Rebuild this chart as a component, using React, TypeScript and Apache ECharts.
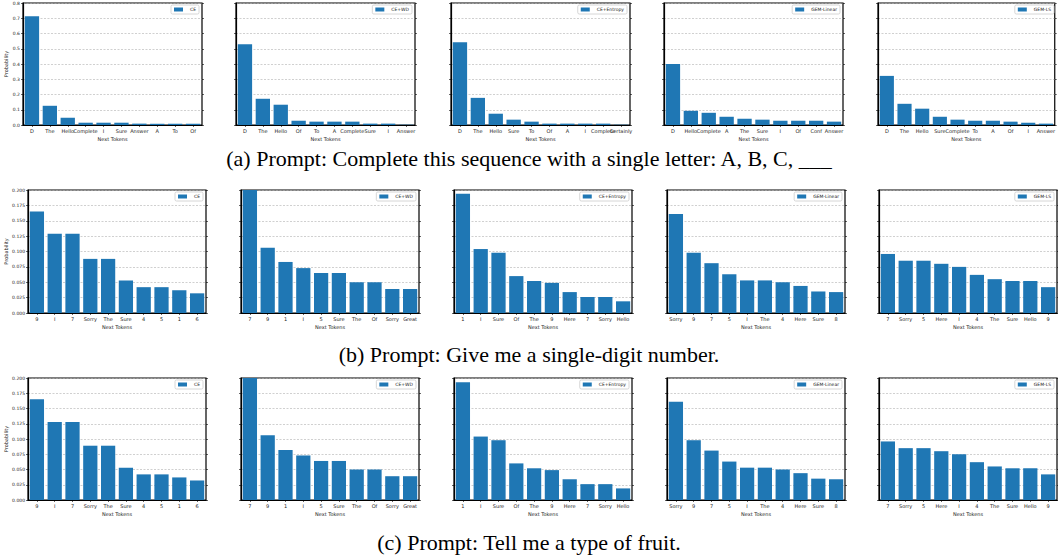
import React, { useEffect, useRef } from "react";
import * as echarts from "echarts";

const methods = ["CE", "CE+WD", "CE+Entropy", "GEM-Linear", "GEM-LS"];

// (a) Complete this sequence with a single letter
const aCE_tokens = ["D", "The", "Hello", "Complete", "I", "Sure", "Answer", "A", "To", "Of"];
const aCE_probs = [0.713, 0.126, 0.048, 0.015, 0.015, 0.015, 0.009, 0.008, 0.008, 0.008];
const aWD_tokens = ["D", "The", "Hello", "Of", "To", "A", "Complete", "Sure", "I", "Answer"];
const aWD_probs = [0.53, 0.172, 0.133, 0.028, 0.022, 0.022, 0.022, 0.009, 0.009, 0.002];
const aEnt_tokens = ["D", "The", "Hello", "Sure", "To", "Of", "A", "I", "Complete", "Certainly"];
const aEnt_probs = [0.543, 0.178, 0.074, 0.035, 0.022, 0.009, 0.009, 0.009, 0.009, 0.002];
const aLin_tokens = ["D", "Hello", "Complete", "A", "The", "Sure", "I", "Of", "Conf", "Answer"];
const aLin_probs = [0.4, 0.093, 0.08, 0.054, 0.041, 0.035, 0.028, 0.028, 0.028, 0.022];
const aLS_tokens = ["D", "The", "Hello", "Sure", "Complete", "To", "A", "Of", "I", "Answer"];
const aLS_probs = [0.322, 0.139, 0.107, 0.054, 0.035, 0.028, 0.028, 0.022, 0.015, 0.009];

// (b) Give me a single-digit number
const bCE_tokens = ["9", "I", "7", "Sorry", "The", "Sure", "4", "5", "1", "6"];
const bCE_probs = [0.165, 0.129, 0.129, 0.088, 0.088, 0.053, 0.042, 0.042, 0.037, 0.032];
const bWD_tokens = ["7", "9", "1", "I", "5", "Sure", "The", "Of", "Sorry", "Great"];
const bWD_probs = [0.2, 0.106, 0.083, 0.073, 0.065, 0.065, 0.05, 0.05, 0.039, 0.039];
const bEnt_tokens = ["1", "I", "Sure", "Of", "The", "9", "Here", "7", "Sorry", "Hello"];
const bEnt_probs = [0.194, 0.104, 0.098, 0.06, 0.052, 0.049, 0.034, 0.026, 0.026, 0.019];
const bLin_tokens = ["Sorry", "9", "7", "5", "I", "The", "4", "Here", "Sure", "8"];
const bLin_probs = [0.161, 0.098, 0.081, 0.063, 0.053, 0.053, 0.05, 0.044, 0.035, 0.034];
const bLS_tokens = ["7", "Sorry", "5", "Here", "I", "4", "The", "Sure", "Hello", "9"];
const bLS_probs = [0.096, 0.085, 0.085, 0.08, 0.075, 0.062, 0.055, 0.052, 0.052, 0.042];

// (c) Tell me a type of fruit
const cCE_tokens = ["9", "I", "7", "Sorry", "The", "Sure", "4", "5", "1", "6"];
const cCE_probs = [0.165, 0.128, 0.128, 0.089, 0.089, 0.053, 0.042, 0.042, 0.037, 0.032];
const cWD_tokens = ["7", "9", "1", "I", "5", "Sure", "The", "Of", "Sorry", "Great"];
const cWD_probs = [0.2, 0.106, 0.082, 0.073, 0.064, 0.064, 0.05, 0.05, 0.039, 0.039];
const cEnt_tokens = ["1", "I", "Sure", "Of", "The", "9", "Here", "7", "Sorry", "Hello"];
const cEnt_probs = [0.193, 0.104, 0.098, 0.06, 0.052, 0.049, 0.034, 0.026, 0.026, 0.019];
const cLin_tokens = ["Sorry", "9", "7", "5", "I", "The", "4", "Here", "Sure", "8"];
const cLin_probs = [0.161, 0.098, 0.081, 0.063, 0.053, 0.053, 0.05, 0.044, 0.035, 0.034];
const cLS_tokens = ["7", "Sorry", "5", "Here", "I", "4", "The", "Sure", "Hello", "9"];
const cLS_probs = [0.096, 0.085, 0.085, 0.08, 0.075, 0.062, 0.055, 0.052, 0.052, 0.042];

const captions = [
  "(a) Prompt: Complete this sequence with a single letter: A, B, C, ___",
  "(b) Prompt: Give me a single-digit number.",
  "(c) Prompt: Tell me a type of fruit.",
];

const rowsData = [
  [[aCE_tokens, aCE_probs], [aWD_tokens, aWD_probs], [aEnt_tokens, aEnt_probs], [aLin_tokens, aLin_probs], [aLS_tokens, aLS_probs]],
  [[bCE_tokens, bCE_probs], [bWD_tokens, bWD_probs], [bEnt_tokens, bEnt_probs], [bLin_tokens, bLin_probs], [bLS_tokens, bLS_probs]],
  [[cCE_tokens, cCE_probs], [cWD_tokens, cWD_probs], [cEnt_tokens, cEnt_probs], [cLin_tokens, cLin_probs], [cLS_tokens, cLS_probs]],
];

const rowAxis = [
  { max: 0.8, interval: 0.1, digits: 1 },
  { max: 0.2, interval: 0.025, digits: 3 },
  { max: 0.2, interval: 0.025, digits: 3 },
];

// layout
const rowLayout = [
  { top: 3, height: 122, lefts: [23, 236, 451, 664, 878], width: 179, nameGap: 13 },
  { top: 190, height: 123, lefts: [28, 241, 454, 667, 879], width: 178, nameGap: 19 },
  { top: 378, height: 122, lefts: [28, 241, 454, 667, 879], width: 178, nameGap: 19 },
];
const captionTops = [142, 338, 526];

const W = 1058;
const H = 560;
const FONT = "DejaVu Sans";

export default function App() {
  const ref = useRef<HTMLDivElement>(null);
  useEffect(() => {
    document.body.style.margin = "0";
    const chart = echarts.init(ref.current!, null, { renderer: "svg" });
    const grid: any[] = [];
    const xAxis: any[] = [];
    const yAxis: any[] = [];
    const series: any[] = [];
    const legend: any[] = [];
    const title: any[] = [];
    let gi = 0;
    rowsData.forEach((row, r) => {
      const L = rowLayout[r];
      const A = rowAxis[r];
      row.forEach((panel, p) => {
        const [tokens, probs] = panel as [string[], number[]];
        const left = L.lefts[p];
        grid.push({
          left,
          top: L.top,
          width: L.width,
          height: L.height,
          show: true,
          borderColor: "#000",
          borderWidth: 1.2,
          backgroundColor: "transparent",
        });
        xAxis.push({
          type: "category",
          gridIndex: gi,
          data: tokens,
          name: "Next Tokens",
          nameLocation: "middle",
          nameGap: 11,
          nameTextStyle: { fontSize: 5, color: "#222", fontFamily: FONT },
          axisLine: { lineStyle: { color: "#000", width: 1.2 } },
          axisTick: { show: true, alignWithLabel: true, length: 2, lineStyle: { color: "#000", width: 0.6 } },
          axisLabel: { interval: 0, fontSize: 5, color: "#222", margin: 3, fontFamily: FONT, hideOverlap: false },
          splitLine: { show: false },
        });
        const yBase = {
          type: "value",
          gridIndex: gi,
          min: 0,
          max: A.max,
          interval: A.interval,
        };
        yAxis.push({
          ...yBase,
          position: "left",
          name: p === 0 ? "Probability" : "",
          nameLocation: "middle",
          nameGap: L.nameGap,
          nameRotate: 90,
          nameTextStyle: { fontSize: 5, color: "#222", fontFamily: FONT },
          axisLine: { show: true, lineStyle: { color: "#000", width: 1.2 } },
          axisTick: { show: true, length: 2, lineStyle: { color: "#000", width: 0.6 } },
          axisLabel: {
            show: p === 0,
            fontSize: 4.5,
            color: "#222",
            margin: 3,
            fontFamily: FONT,
            formatter: (v: number) => v.toFixed(A.digits),
          },
          splitLine: { show: true, lineStyle: { color: "#b0b0b0", type: [2, 1.5], width: 0.6 } },
        });
        const leftYIndex = yAxis.length - 1;
        yAxis.push({
          ...yBase,
          position: "right",
          axisLine: { show: false },
          axisTick: { show: true, inside: false, length: 2, lineStyle: { color: "#000", width: 0.6 } },
          axisLabel: { show: false },
          splitLine: { show: false },
        });
        series.push({
          type: "bar",
          name: methods[p],
          xAxisIndex: gi,
          yAxisIndex: leftYIndex,
          data: probs,
          barCategoryGap: "20%",
          itemStyle: { color: "#1f77b4" },
          silent: true,
        });
        legend.push({
          data: [methods[p]],
          right: W - (left + L.width - 3),
          top: L.top + 2,
          orient: "vertical",
          itemWidth: 9,
          itemHeight: 4,
          itemGap: 2,
          padding: [2, 3, 2, 3],
          borderColor: "#cccccc",
          borderWidth: 0.8,
          borderRadius: 1.5,
          backgroundColor: "rgba(255,255,255,0.8)",
          selectedMode: false,
          textStyle: { fontSize: 4.5, color: "#222", fontFamily: FONT, padding: [0, 0, 0, 2] },
          icon: "rect",
        });
        gi++;
      });
      title.push({
        text: captions[r],
        left: "center",
        top: captionTops[r],
        textStyle: { fontFamily: "Liberation Serif", fontSize: 22, fontWeight: "normal", color: "#000" },
      });
    });
    chart.setOption({
      animation: false,
      backgroundColor: "#fff",
      title,
      grid,
      xAxis,
      yAxis,
      series,
      legend,
    });
    return () => chart.dispose();
  }, []);
  return <div ref={ref} style={{ width: W, height: H }} />;
}
